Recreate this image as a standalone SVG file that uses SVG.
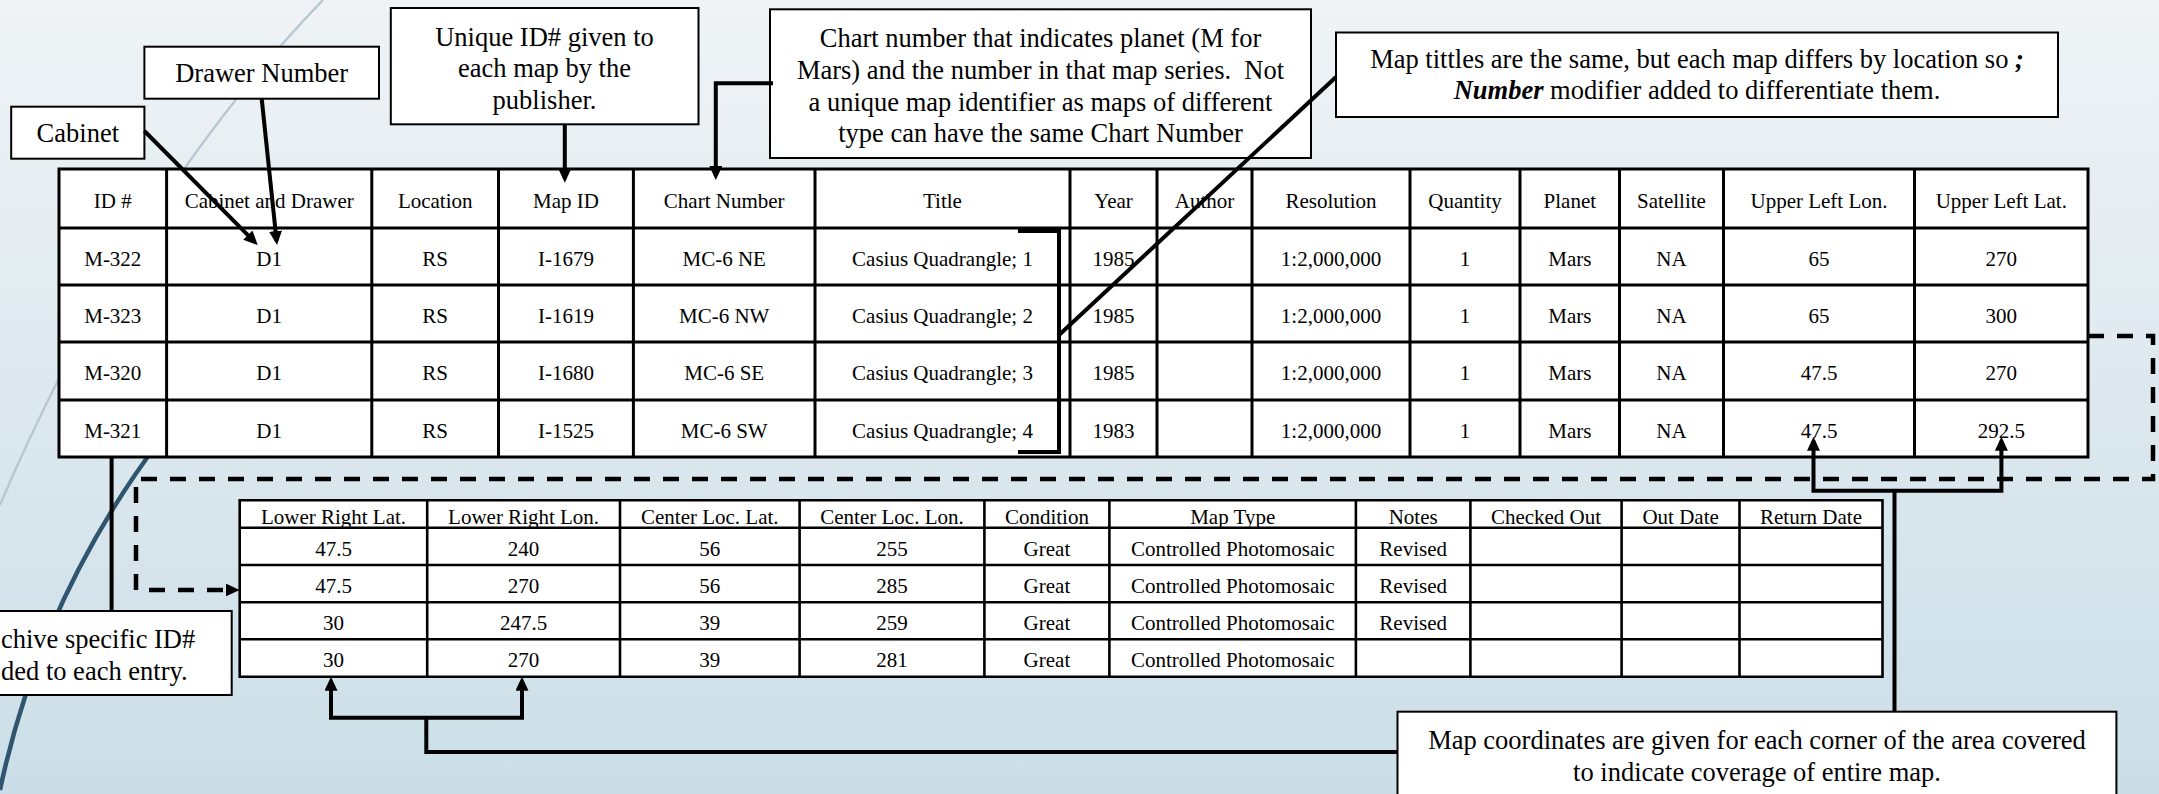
<svg xmlns="http://www.w3.org/2000/svg" width="2159" height="794" viewBox="0 0 2159 794">
<defs>
<linearGradient id="bg" x1="0" y1="0" x2="0" y2="1">
<stop offset="0" stop-color="#eff3f6"/>
<stop offset="1" stop-color="#cbdee7"/>
</linearGradient>
<marker id="arr" markerUnits="userSpaceOnUse" markerWidth="14" markerHeight="13" refX="10" refY="6.5" orient="auto-start-reverse" viewBox="0 0 14 13"><path d="M0,0 L14,6.5 L0,13 z" fill="#000"/></marker>
</defs>
<style>
.t{font-family:"Liberation Serif","Times New Roman",serif;fill:#000;text-anchor:middle}
.tm{font-size:21px}
.c{font-size:26.5px;white-space:pre}
.st{text-anchor:start}
.grid{stroke:#000;stroke-width:3;fill:none}
.grid2{stroke:#000;stroke-width:2.6;fill:none}
.cell{fill:#fff}
.box{fill:#fff;stroke:#000;stroke-width:2}
.ln{fill:none;stroke:#000;stroke-width:4}
.dash{fill:none;stroke:#000;stroke-width:4.5;stroke-dasharray:16 13}
.bi{font-weight:bold;font-style:italic}
</style>
<rect x="0" y="0" width="2159" height="794" fill="url(#bg)"/>
<g id="background-curves" fill="none">
<path d="M323,0 Q130,200 0,505" stroke="#b9c8d0" stroke-width="2.5"/>
<path d="M160,440 Q40,600 0,790" stroke="#30566f" stroke-width="4.5"/>
</g>

<g id="main-table">
<rect class="cell" x="59" y="169" width="2029" height="288"/>
<path class="grid" d="M59,169 H2088 V457 H59 Z M59,228 H2088 M59,285 H2088 M59,342 H2088 M59,400 H2088 M166.6,169 V457 M371.8,169 V457 M498.5,169 V457 M633.4,169 V457 M815,169 V457 M1070,169 V457 M1157,169 V457 M1252,169 V457 M1410,169 V457 M1520,169 V457 M1619.5,169 V457 M1723.5,169 V457 M1914.5,169 V457"/>
<g class="t tm">
<text x="112.8" y="207.5">ID #</text><text x="269.2" y="207.5">Cabinet and Drawer</text><text x="435.2" y="207.5">Location</text><text x="566" y="207.5">Map ID</text><text x="724.2" y="207.5">Chart Number</text><text x="942.5" y="207.5">Title</text><text x="1113.5" y="207.5">Year</text><text x="1204.5" y="207.5">Author</text><text x="1331" y="207.5">Resolution</text><text x="1465" y="207.5">Quantity</text><text x="1569.8" y="207.5">Planet</text><text x="1671.5" y="207.5">Satellite</text><text x="1819" y="207.5">Upper Left Lon.</text><text x="2001.3" y="207.5">Upper Left Lat.</text>
<text x="112.8" y="265.5">M-322</text><text x="269.2" y="265.5">D1</text><text x="435.2" y="265.5">RS</text><text x="566" y="265.5">I-1679</text><text x="724.2" y="265.5">MC-6 NE</text><text x="942.5" y="265.5">Casius Quadrangle; 1</text><text x="1113.5" y="265.5">1985</text><text x="1331" y="265.5">1:2,000,000</text><text x="1465" y="265.5">1</text><text x="1569.8" y="265.5">Mars</text><text x="1671.5" y="265.5">NA</text><text x="1819" y="265.5">65</text><text x="2001.3" y="265.5">270</text>
<text x="112.8" y="322.5">M-323</text><text x="269.2" y="322.5">D1</text><text x="435.2" y="322.5">RS</text><text x="566" y="322.5">I-1619</text><text x="724.2" y="322.5">MC-6 NW</text><text x="942.5" y="322.5">Casius Quadrangle; 2</text><text x="1113.5" y="322.5">1985</text><text x="1331" y="322.5">1:2,000,000</text><text x="1465" y="322.5">1</text><text x="1569.8" y="322.5">Mars</text><text x="1671.5" y="322.5">NA</text><text x="1819" y="322.5">65</text><text x="2001.3" y="322.5">300</text>
<text x="112.8" y="380">M-320</text><text x="269.2" y="380">D1</text><text x="435.2" y="380">RS</text><text x="566" y="380">I-1680</text><text x="724.2" y="380">MC-6 SE</text><text x="942.5" y="380">Casius Quadrangle; 3</text><text x="1113.5" y="380">1985</text><text x="1331" y="380">1:2,000,000</text><text x="1465" y="380">1</text><text x="1569.8" y="380">Mars</text><text x="1671.5" y="380">NA</text><text x="1819" y="380">47.5</text><text x="2001.3" y="380">270</text>
<text x="112.8" y="437.5">M-321</text><text x="269.2" y="437.5">D1</text><text x="435.2" y="437.5">RS</text><text x="566" y="437.5">I-1525</text><text x="724.2" y="437.5">MC-6 SW</text><text x="942.5" y="437.5">Casius Quadrangle; 4</text><text x="1113.5" y="437.5">1983</text><text x="1331" y="437.5">1:2,000,000</text><text x="1465" y="437.5">1</text><text x="1569.8" y="437.5">Mars</text><text x="1671.5" y="437.5">NA</text><text x="1819" y="437.5">47.5</text><text x="2001.3" y="437.5">292.5</text>
</g>
</g>

<g id="second-table">
<rect class="cell" x="239.7" y="500.3" width="1642.8" height="176.4"/>
<path class="grid2" d="M239.7,500.3 H1882.5 V676.7 H239.7 Z M239.7,527.7 H1882.5 M239.7,565 H1882.5 M239.7,602.3 H1882.5 M239.7,639.3 H1882.5 M427.2,500.3 V676.7 M620,500.3 V676.7 M799.6,500.3 V676.7 M984.4,500.3 V676.7 M1109.4,500.3 V676.7 M1355.9,500.3 V676.7 M1470.4,500.3 V676.7 M1621.6,500.3 V676.7 M1739.5,500.3 V676.7"/>
<g class="t tm">
<text x="333.5" y="523.5">Lower Right Lat.</text><text x="523.6" y="523.5">Lower Right Lon.</text><text x="709.8" y="523.5">Center Loc. Lat.</text><text x="892" y="523.5">Center Loc. Lon.</text><text x="1046.9" y="523.5">Condition</text><text x="1232.7" y="523.5">Map Type</text><text x="1413.2" y="523.5">Notes</text><text x="1546" y="523.5">Checked Out</text><text x="1680.6" y="523.5">Out Date</text><text x="1811" y="523.5">Return Date</text>
<text x="333.5" y="555.5">47.5</text><text x="523.6" y="555.5">240</text><text x="709.8" y="555.5">56</text><text x="892" y="555.5">255</text><text x="1046.9" y="555.5">Great</text><text x="1232.7" y="555.5">Controlled Photomosaic</text><text x="1413.2" y="555.5">Revised</text>
<text x="333.5" y="592.7">47.5</text><text x="523.6" y="592.7">270</text><text x="709.8" y="592.7">56</text><text x="892" y="592.7">285</text><text x="1046.9" y="592.7">Great</text><text x="1232.7" y="592.7">Controlled Photomosaic</text><text x="1413.2" y="592.7">Revised</text>
<text x="333.5" y="629.8">30</text><text x="523.6" y="629.8">247.5</text><text x="709.8" y="629.8">39</text><text x="892" y="629.8">259</text><text x="1046.9" y="629.8">Great</text><text x="1232.7" y="629.8">Controlled Photomosaic</text><text x="1413.2" y="629.8">Revised</text>
<text x="333.5" y="667">30</text><text x="523.6" y="667">270</text><text x="709.8" y="667">39</text><text x="892" y="667">281</text><text x="1046.9" y="667">Great</text><text x="1232.7" y="667">Controlled Photomosaic</text>
</g>
</g>

<g id="callout-cabinet">
<rect class="box" x="11.2" y="106.7" width="133.2" height="52"/>
<text class="t c" x="77.8" y="141.7">Cabinet</text>
</g>
<g id="callout-drawer">
<rect class="box" x="144.4" y="46.7" width="234.6" height="52"/>
<text class="t c" x="261.7" y="81.7">Drawer Number</text>
</g>
<g id="callout-unique-id">
<rect class="box" x="390.8" y="8" width="307.7" height="116.3"/>
<text class="t c" x="544.5" y="45.7">Unique ID# given to</text>
<text class="t c" x="544.5" y="77.3">each map by the</text>
<text class="t c" x="544.5" y="109">publisher.</text>
</g>
<g id="callout-chart-number">
<rect class="box" x="770" y="9.3" width="541" height="148.7"/>
<text class="t c" x="1040.5" y="47">Chart number that indicates planet (M for</text>
<text class="t c" x="1040.5" y="79">Mars) and the number in that map series.  Not</text>
<text class="t c" x="1040.5" y="110.7">a unique map identifier as maps of different</text>
<text class="t c" x="1040.5" y="142.3">type can have the same Chart Number</text>
</g>
<g id="callout-map-titles">
<rect class="box" x="1336" y="32.5" width="722" height="84.5"/>
<text class="t c" x="1697" y="67.5">Map tittles are the same, but each map differs by location so <tspan class="bi">;</tspan></text>
<text class="t c" x="1697" y="99"><tspan class="bi">Number</tspan> modifier added to differentiate them.</text>
</g>
<g id="callout-archive-id">
<rect class="box" x="-66" y="611" width="297.7" height="84"/>
<text class="t c st" x="1" y="648.3">chive specific ID#</text>
<text class="t c st" x="1" y="679.5">ded to each entry.</text>
</g>
<g id="callout-coordinates">
<rect class="box" x="1397.5" y="711.7" width="718.9" height="100"/>
<text class="t c" x="1757" y="749">Map coordinates are given for each corner of the area covered</text>
<text class="t c" x="1757" y="780.7">to indicate coverage of entire map.</text>
</g>

<g id="connectors">
<line class="ln" x1="144.4" y1="131" x2="254.9" y2="242.2" marker-end="url(#arr)"/>
<line class="ln" x1="261.7" y1="98.7" x2="276.6" y2="241" marker-end="url(#arr)"/>
<line class="ln" x1="564.8" y1="124.3" x2="564.8" y2="178.7" marker-end="url(#arr)"/>
<path class="ln" d="M773,83.3 H715.8 V176" marker-end="url(#arr)"/>
<line class="ln" x1="1336" y1="77" x2="1058" y2="336" stroke-width="3"/>
<path class="ln" d="M1018,231 H1059 V452 H1018" stroke-width="4.5"/>
<line class="ln" x1="111.6" y1="457" x2="111.6" y2="611"/>
<path class="dash" d="M2088,336 H2153 V479 H136 V590 H235.7" marker-end="url(#arr)"/>
<path class="ln" d="M1397.5,752 H426.3 V717.7"/>
<path class="ln" d="M331,680.7 V717.7 H522 V680.7" marker-start="url(#arr)" marker-end="url(#arr)"/>
<path class="ln" d="M1894.5,711.7 V490.7"/>
<path class="ln" d="M1813.5,440.7 V490.7 H2001.4 V440.7" marker-start="url(#arr)" marker-end="url(#arr)"/>
</g>
</svg>
